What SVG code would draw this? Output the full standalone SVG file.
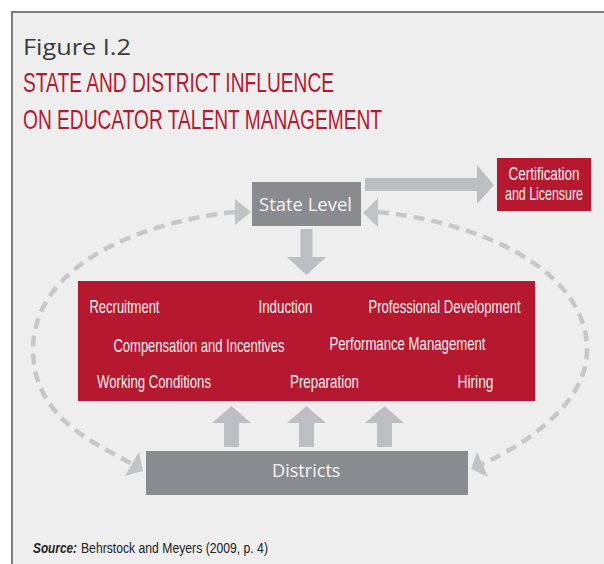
<svg xmlns="http://www.w3.org/2000/svg" width="604" height="564" viewBox="0 0 604 564">
<defs>
<style>
.cond{font-family:"Liberation Sans Narrow","Liberation Sans",Arial,sans-serif;}
.lbl{font-size:18.5px;fill:#f9eef0;}
.hum{font-family:"Open Sans","Noto Sans","DejaVu Sans",sans-serif;}
.arrow{fill:#bdbec1;}
.dash{fill:none;stroke:#c6c7c9;stroke-width:4.5;stroke-dasharray:11 7;}
.head{fill:#c2c3c5;}
</style>
</defs>
<rect x="0" y="0" width="604" height="564" fill="#ffffff"/>
<rect x="12" y="12" width="620" height="580" fill="#eeeeee" stroke="#7d7d7d" stroke-width="2"/>

<g id="title">
<text x="23" y="55" class="hum" font-size="22" fill="#3a3a3a" textLength="108" lengthAdjust="spacingAndGlyphs">Figure I.2</text>
<text transform="translate(23,92) scale(0.75,1)" class="cond" font-size="28.5" fill="#b5182f" textLength="414.7" lengthAdjust="spacingAndGlyphs">STATE AND DISTRICT INFLUENCE</text>
<text transform="translate(23,129) scale(0.75,1)" class="cond" font-size="28.5" fill="#b5182f" textLength="478.7" lengthAdjust="spacingAndGlyphs">ON EDUCATOR TALENT MANAGEMENT</text>
</g>

<g id="connectors">
<path class="dash" d="M235,212 C140,222 33,265 33,350 C33,420 100,445 132,464"/>
<polygon class="head" points="251,212 235,199 235,225"/>
<polygon class="head" points="143,471 139,452 125,476"/>
<path class="dash" d="M378,212 C480,222 587,270 587,350 C587,410 510,452 482,464"/>
<polygon class="head" points="363,213 378,198 378,227"/>
<polygon class="head" points="471,469 477,452 488,477"/>
<polygon class="arrow" points="365,178 477,178 477,165 494,185 477,204 477,191 365,191"/>
<polygon class="arrow" points="300.5,229 312.5,229 312.5,257 326,257 306.5,275 287,257 300.5,257"/>
<polygon class="arrow" points="231.5,406 251,423 239,423 239,447 224,447 224,423 212,423"/>
<polygon class="arrow" points="306.5,406 326,423 314,423 314,447 299,447 299,423 287,423"/>
<polygon class="arrow" points="384.5,406 404,423 392,423 392,447 377,447 377,423 365,423"/>
</g>

<g id="state-level">
<rect x="252" y="182" width="109" height="44" fill="#8a8b8e"/>
<text x="259" y="211" class="hum" font-size="18" fill="#f4f4f4" textLength="93" lengthAdjust="spacingAndGlyphs">State Level</text>
</g>

<g id="certification">
<rect x="497" y="158" width="94" height="53" fill="#b5182f"/>
<text transform="translate(508.5,180) scale(0.75,1)" class="cond lbl" textLength="94.7" lengthAdjust="spacingAndGlyphs">Certification</text>
<text transform="translate(505,200) scale(0.75,1)" class="cond lbl" textLength="104" lengthAdjust="spacingAndGlyphs">and Licensure</text>
</g>

<g id="functions">
<rect x="78" y="281" width="457" height="120" fill="#b5182f"/>
<text transform="translate(89.5,312.5) scale(0.75,1)" class="cond lbl" textLength="93.3" lengthAdjust="spacingAndGlyphs">Recruitment</text>
<text transform="translate(258.5,312.5) scale(0.75,1)" class="cond lbl" textLength="72" lengthAdjust="spacingAndGlyphs">Induction</text>
<text transform="translate(368.5,312.5) scale(0.75,1)" class="cond lbl" textLength="202.7" lengthAdjust="spacingAndGlyphs">Professional Development</text>
<text transform="translate(113.5,351.5) scale(0.75,1)" class="cond lbl" textLength="228" lengthAdjust="spacingAndGlyphs">Compensation and Incentives</text>
<text transform="translate(329.5,349.5) scale(0.75,1)" class="cond lbl" textLength="208" lengthAdjust="spacingAndGlyphs">Performance Management</text>
<text transform="translate(97,388) scale(0.75,1)" class="cond lbl" textLength="152" lengthAdjust="spacingAndGlyphs">Working Conditions</text>
<text transform="translate(290,388) scale(0.75,1)" class="cond lbl" textLength="92" lengthAdjust="spacingAndGlyphs">Preparation</text>
<text transform="translate(457.5,388) scale(0.75,1)" class="cond lbl" textLength="48" lengthAdjust="spacingAndGlyphs">Hiring</text>
</g>

<g id="districts">
<rect x="146" y="451" width="322" height="44" fill="#8a8b8e"/>
<text x="272" y="477" class="hum" font-size="18" fill="#f4f4f4" textLength="68.5" lengthAdjust="spacingAndGlyphs">Districts</text>
</g>

<g id="source">
<text transform="translate(33,553) scale(0.75,1)" class="cond" font-size="14.5" fill="#222222"><tspan font-weight="bold" font-style="italic" textLength="58.7" lengthAdjust="spacingAndGlyphs">Source:</tspan><tspan x="64" textLength="249.3" lengthAdjust="spacingAndGlyphs">Behrstock and Meyers (2009, p. 4)</tspan></text>
</g>
</svg>
